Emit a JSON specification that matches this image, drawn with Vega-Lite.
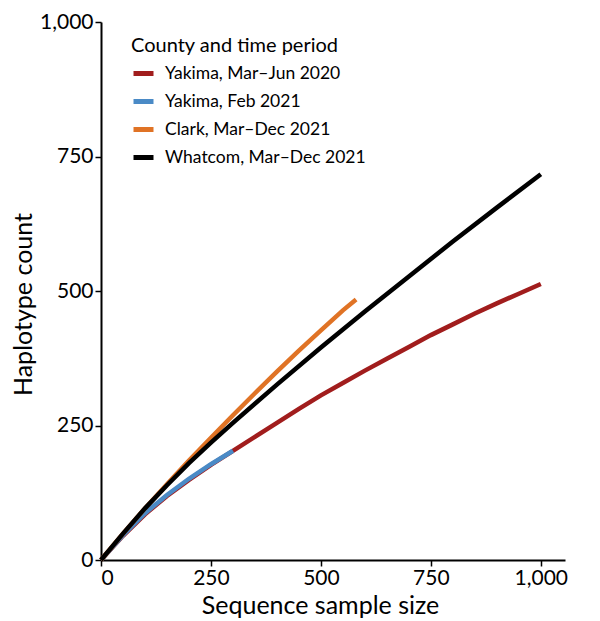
{
  "$schema": "https://vega.github.io/schema/vega-lite/v6.json",
  "width": 464,
  "height": 538,
  "autosize": {"type": "none"},
  "padding": {"left": 101, "top": 22, "right": 35, "bottom": 61},
  "background": "white",
  "config": {
    "font": "Lato",
    "view": {"stroke": null},
    "axis": {"grid": false, "domainColor": "#000", "domainWidth": 2, "tickColor": "#000", "tickWidth": 1.5, "tickSize": 6, "labelColor": "#000", "titleColor": "#000", "labelFont": "Lato", "titleFont": "Lato", "labelFontSize": 21, "titleFontSize": 25, "titleFontWeight": "normal"}
  },
  "data": {
    "values": [
      {"s": "Yakima, Mar–Jun 2020", "x": 0, "y": 0},
      {"s": "Yakima, Mar–Jun 2020", "x": 50, "y": 45},
      {"s": "Yakima, Mar–Jun 2020", "x": 100, "y": 85},
      {"s": "Yakima, Mar–Jun 2020", "x": 150, "y": 119},
      {"s": "Yakima, Mar–Jun 2020", "x": 200, "y": 149},
      {"s": "Yakima, Mar–Jun 2020", "x": 250, "y": 177},
      {"s": "Yakima, Mar–Jun 2020", "x": 300, "y": 203},
      {"s": "Yakima, Mar–Jun 2020", "x": 350, "y": 229},
      {"s": "Yakima, Mar–Jun 2020", "x": 400, "y": 255},
      {"s": "Yakima, Mar–Jun 2020", "x": 450, "y": 281},
      {"s": "Yakima, Mar–Jun 2020", "x": 500, "y": 306},
      {"s": "Yakima, Mar–Jun 2020", "x": 550, "y": 329},
      {"s": "Yakima, Mar–Jun 2020", "x": 600, "y": 352},
      {"s": "Yakima, Mar–Jun 2020", "x": 650, "y": 374},
      {"s": "Yakima, Mar–Jun 2020", "x": 700, "y": 396},
      {"s": "Yakima, Mar–Jun 2020", "x": 750, "y": 418},
      {"s": "Yakima, Mar–Jun 2020", "x": 800, "y": 438},
      {"s": "Yakima, Mar–Jun 2020", "x": 850, "y": 458},
      {"s": "Yakima, Mar–Jun 2020", "x": 900, "y": 477},
      {"s": "Yakima, Mar–Jun 2020", "x": 950, "y": 495},
      {"s": "Yakima, Mar–Jun 2020", "x": 1000, "y": 513},
      {"s": "Yakima, Feb 2021", "x": 0, "y": 0},
      {"s": "Yakima, Feb 2021", "x": 50, "y": 46},
      {"s": "Yakima, Feb 2021", "x": 100, "y": 87},
      {"s": "Yakima, Feb 2021", "x": 150, "y": 121},
      {"s": "Yakima, Feb 2021", "x": 200, "y": 151},
      {"s": "Yakima, Feb 2021", "x": 250, "y": 178},
      {"s": "Yakima, Feb 2021", "x": 300, "y": 203},
      {"s": "Clark, Mar–Dec 2021", "x": 0, "y": 0},
      {"s": "Clark, Mar–Dec 2021", "x": 50, "y": 49},
      {"s": "Clark, Mar–Dec 2021", "x": 100, "y": 96},
      {"s": "Clark, Mar–Dec 2021", "x": 150, "y": 141},
      {"s": "Clark, Mar–Dec 2021", "x": 200, "y": 185},
      {"s": "Clark, Mar–Dec 2021", "x": 250, "y": 227},
      {"s": "Clark, Mar–Dec 2021", "x": 300, "y": 269},
      {"s": "Clark, Mar–Dec 2021", "x": 350, "y": 310},
      {"s": "Clark, Mar–Dec 2021", "x": 400, "y": 350},
      {"s": "Clark, Mar–Dec 2021", "x": 450, "y": 389},
      {"s": "Clark, Mar–Dec 2021", "x": 500, "y": 427},
      {"s": "Clark, Mar–Dec 2021", "x": 550, "y": 464},
      {"s": "Clark, Mar–Dec 2021", "x": 580, "y": 484},
      {"s": "Whatcom, Mar–Dec 2021", "x": 0, "y": 0},
      {"s": "Whatcom, Mar–Dec 2021", "x": 50, "y": 49},
      {"s": "Whatcom, Mar–Dec 2021", "x": 100, "y": 96},
      {"s": "Whatcom, Mar–Dec 2021", "x": 150, "y": 139},
      {"s": "Whatcom, Mar–Dec 2021", "x": 200, "y": 180},
      {"s": "Whatcom, Mar–Dec 2021", "x": 250, "y": 218},
      {"s": "Whatcom, Mar–Dec 2021", "x": 300, "y": 255},
      {"s": "Whatcom, Mar–Dec 2021", "x": 400, "y": 326},
      {"s": "Whatcom, Mar–Dec 2021", "x": 500, "y": 395},
      {"s": "Whatcom, Mar–Dec 2021", "x": 600, "y": 462},
      {"s": "Whatcom, Mar–Dec 2021", "x": 700, "y": 527},
      {"s": "Whatcom, Mar–Dec 2021", "x": 800, "y": 592},
      {"s": "Whatcom, Mar–Dec 2021", "x": 900, "y": 655},
      {"s": "Whatcom, Mar–Dec 2021", "x": 1000, "y": 717}
    ]
  },
  "mark": {"type": "line", "strokeWidth": 4.5, "strokeCap": "butt"},
  "encoding": {
    "x": {
      "field": "x", "type": "quantitative",
      "scale": {"domain": [0, 1055], "nice": false, "zero": true},
      "axis": {"title": "Sequence sample size", "values": [0, 250, 500, 750, 1000], "format": ",d", "labelPadding": 1, "titleX": 219, "titleY": 45, "titleBaseline": "middle", "titleAnchor": "middle"}
    },
    "y": {
      "field": "y", "type": "quantitative",
      "scale": {"domain": [0, 1000], "nice": false},
      "axis": {"title": "Haplotype count", "values": [0, 250, 500, 750, 1000], "format": ",d", "labelPadding": 2, "titleX": -78, "titleY": 282, "titleBaseline": "middle", "titleAngle": -90, "titleAnchor": "middle"}
    },
    "color": {
      "field": "s", "type": "nominal",
      "sort": ["Yakima, Mar–Jun 2020", "Yakima, Feb 2021", "Clark, Mar–Dec 2021", "Whatcom, Mar–Dec 2021"],
      "scale": {
        "domain": ["Yakima, Mar–Jun 2020", "Yakima, Feb 2021", "Clark, Mar–Dec 2021", "Whatcom, Mar–Dec 2021"],
        "range": ["#a11d1d", "#4a8ac6", "#e07325", "#000000"]
      },
      "legend": {
        "title": "County and time period",
        "orient": "none", "legendX": 30, "legendY": 14,
        "padding": 0,
        "symbolType": "stroke", "symbolSize": 400, "symbolStrokeWidth": 5,
        "labelFont": "Lato", "labelFontSize": 17.5, "labelColor": "#000", "labelOffset": 9,
        "titleFont": "Lato", "titleFontSize": 20, "titleFontWeight": "normal", "titleColor": "#000", "titlePadding": 5, "titleLimit": 400,
        "rowPadding": 5, "labelLimit": 400
      }
    }
  }
}
